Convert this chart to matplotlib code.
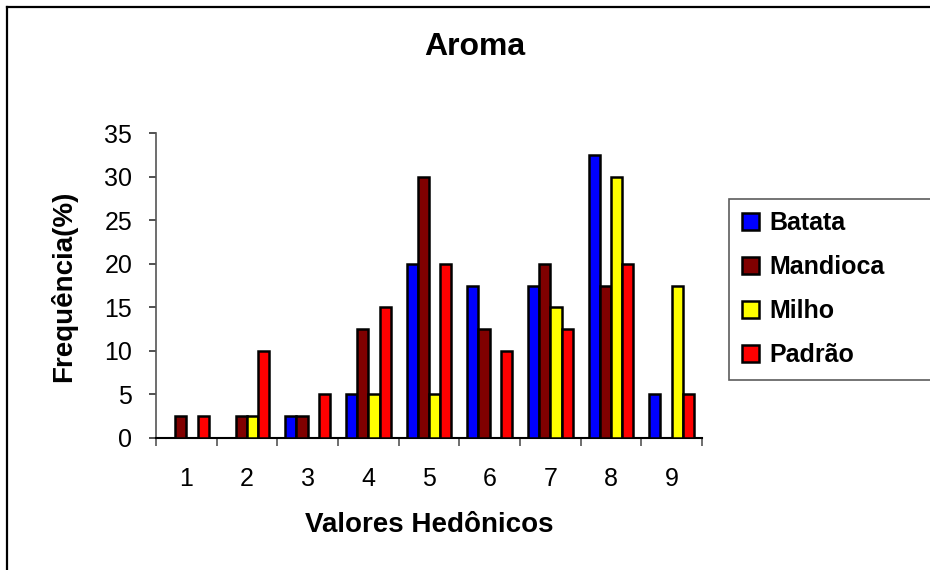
import numpy as np
import matplotlib.pyplot as plt
from matplotlib.lines import Line2D

plt.rcParams['font.family'] = ['Liberation Sans', 'DejaVu Sans']

# data
valores = ['1', '2', '3', '4', '5', '6', '7', '8', '9']
batata = [0, 0, 2.5, 5, 20, 17.5, 17.5, 32.5, 5]
mandioca = [2.5, 2.5, 2.5, 12.5, 30, 12.5, 20, 17.5, 0]
milho = [0, 2.5, 0, 5, 5, 0, 15, 30, 17.5]
padrao = [2.5, 10, 5, 15, 20, 10, 12.5, 20, 5]

series = [('Batata', batata, '#0000ff'),
          ('Mandioca', mandioca, '#800000'),
          ('Milho', milho, '#ffff00'),
          ('Padrão', padrao, '#ff0000')]

fig = plt.figure(figsize=(9.3, 5.7), dpi=100)
ax = fig.add_axes([0.1677, 0.2316, 0.5871, 0.5345])

x = np.arange(1, len(valores) + 1)
w = 0.185
for i, (nome, vals, cor) in enumerate(series):
    ax.bar(x + (i - 1.5) * w, vals, w, color=cor, edgecolor='black',
           linewidth=1.8, label=nome, zorder=3)

ax.set_xlim(0.5, 9.5)
ax.set_ylim(0, 35)
ax.set_yticks(range(0, 36, 5))
ax.set_xticks(np.arange(0.5, 10, 1))
ax.set_xticklabels([])
ax.set_xticks(x, minor=True)
ax.set_xticklabels(valores, minor=True)
ax.tick_params(axis='x', which='minor', length=0, pad=21, labelsize=18)
ax.tick_params(axis='x', which='major', length=6, width=1.2, color='#555555', direction='out')
ax.tick_params(axis='y', length=5, width=1.2, color='#333333', labelsize=18, pad=12)

for s in ['top', 'right']:
    ax.spines[s].set_visible(False)
ax.spines['left'].set_color('#555555')
ax.spines['bottom'].set_color('black')
ax.spines['left'].set_linewidth(1.2)
ax.spines['bottom'].set_linewidth(1.5)

fig.text(0.51, 0.917, 'Aroma', ha='center', va='center', fontsize=23, fontweight='bold')
fig.text(0.462, 0.079, 'Valores Hedônicos', ha='center', va='center', fontsize=20, fontweight='bold')
fig.text(0.068, 0.498, 'Frequência(%)', ha='center', va='center', rotation=90,
         fontsize=20, fontweight='bold')

leg = fig.legend(loc='upper left', bbox_to_anchor=(0.784, 0.3, 0.3, 0.351), mode='expand',
                 prop={'weight': 'bold', 'size': 18}, frameon=True, fancybox=False,
                 edgecolor='#333333', handlelength=0.7, handleheight=0.7,
                 handletextpad=0.4, labelspacing=0.8, borderpad=0.5, borderaxespad=0)
leg.get_frame().set_linewidth(1.2)

# outer border (left and top edges only are visible in the reference)
fig.add_artist(Line2D([0.0075, 0.0075], [0, 0.988], transform=fig.transFigure,
                      color='black', linewidth=1.6))
fig.add_artist(Line2D([0.0075, 1.0], [0.988, 0.988], transform=fig.transFigure,
                      color='black', linewidth=1.6))

fig.savefig('out.png', dpi=100)
